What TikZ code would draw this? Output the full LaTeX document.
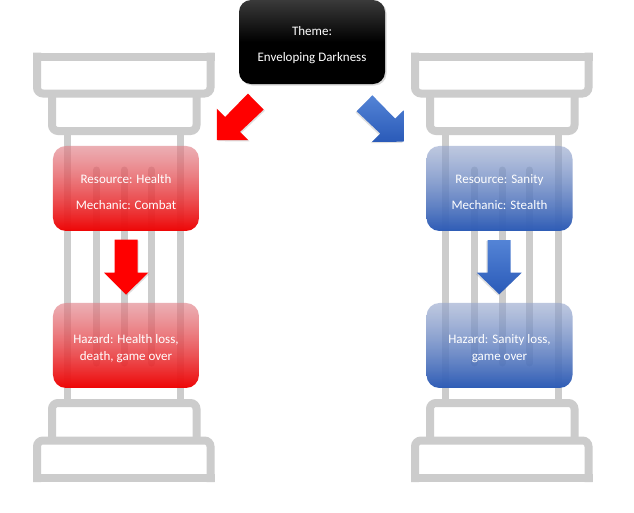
\documentclass[tikz,border=0pt]{standalone}
\usepackage{fontspec}
\setmainfont{Carlito}
\usetikzlibrary{fadings,shadows}
\definecolor{pillarc}{RGB}{204,204,204}
\definecolor{redtop}{RGB}{224,126,134}
\definecolor{redbot}{RGB}{238,6,6}
\definecolor{bluetop}{RGB}{150,166,204}
\definecolor{bluebot}{RGB}{46,92,182}
\definecolor{arrblueA}{RGB}{84,132,214}
\definecolor{arrblueB}{RGB}{42,90,184}
\definecolor{themetop}{RGB}{58,58,58}
\newcommand{\tstrut}{\rule{0pt}{15.5pt}}
\tikzfading[name=boxfade, top color=transparent!38, bottom color=transparent!0]
\tikzset{
  pillarline/.style={draw=pillarc, line width=8pt, line cap=butt, line join=miter},
  shaftline/.style={draw=pillarc, line width=7pt, line cap=butt},
  flute/.style={draw=pillarc, line width=7pt, line cap=round},
  txt/.style={text=white, font=\fontsize{13}{17}\selectfont, align=center},
  redbox/.style={txt, rounded corners=13pt, minimum width=146pt, minimum height=85pt,
    top color=redtop, bottom color=redbot, path fading=boxfade},
  bluebox/.style={txt, rounded corners=13pt, minimum width=146pt, minimum height=85pt,
    top color=bluetop, bottom color=bluebot, path fading=boxfade},
  themebox/.style={txt, rounded corners=12pt, minimum width=146pt, minimum height=84pt,
    top color=themetop, bottom color=black, middle color=black,
    drop shadow={opacity=0.3, shadow xshift=1.5pt, shadow yshift=-1.5pt}},
  redarrow/.style={fill=red, drop shadow={opacity=0.25, shadow xshift=1.2pt, shadow yshift=-1.2pt}},
  bluearrow/.style={top color=arrblueA, bottom color=arrblueB, draw=none,
    drop shadow={opacity=0.25, shadow xshift=-1.2pt, shadow yshift=-1.2pt}},
}
\newcommand{\mypillar}[1]{%
  \begin{scope}[xshift=#1]
    % capital
    \draw[pillarline] (33,56.5) -- (214.5,56.5);
    \draw[pillarline, rounded corners=6pt] (37,52.5) -- (37,93.5) -- (210.5,93.5) -- (210.5,52.5);
    \draw[pillarline, rounded corners=6pt] (52,93.5) -- (52,131) -- (196.5,131) -- (196.5,93.5);
    % shaft
    \draw[shaftline] (67.5,131) -- (67.5,403);
    \draw[shaftline] (180.5,131) -- (180.5,403);
    \draw[flute] (96.5,170) -- (96.5,363);
    \draw[flute] (124,170) -- (124,363);
    \draw[flute] (151.5,170) -- (151.5,363);
    % base
    \draw[pillarline, rounded corners=6pt] (52,441) -- (52,403) -- (196.5,403) -- (196.5,441);
    \draw[pillarline, rounded corners=6pt] (37,482) -- (37,440.5) -- (210.5,440.5) -- (210.5,482);
    \draw[pillarline] (33,478) -- (214.5,478);
  \end{scope}}
\begin{document}
\begin{tikzpicture}[x=1pt,y=-1pt]
\useasboundingbox (0,0) rectangle (634,512);
\fill[white] (0,0) rectangle (634,512);
\mypillar{0pt}
\mypillar{378pt}
% arrows
\path[redarrow] (247.9,93.6) -- (225.1,117.0) -- (216.8,108.7) -- (216.8,140) -- (248.3,140.2) -- (240,131.9) -- (263.6,109.6) -- cycle;
\path[bluearrow] (372.4,95.3) -- (395.2,118.7) -- (403.5,110.4) -- (403.5,141.7) -- (372,141.9) -- (380.3,133.6) -- (356.7,111.3) -- cycle;
\path[redarrow] (114.5,239.5) -- (137.5,239.5) -- (137.5,272.7) -- (148.3,272.7) -- (126,294.5) -- (104,272.7) -- (114.5,272.7) -- cycle;
\path[bluearrow] (487.5,240) -- (510.5,240) -- (510.5,272.7) -- (521.7,272.7) -- (499.3,294.3) -- (476.9,272.7) -- (487.5,272.7) -- cycle;
% boxes
\node[themebox] (theme) at (312,42) {\tstrut Theme:\\[9pt]Enveloping Darkness};
\node[redbox] (res1) at (126,188.5) {\tstrut Resource: Health\\[9pt]Mechanic: Combat};
\node[redbox] (haz1) at (126,345.5) {\tstrut Hazard: Health loss,\\death, game over};
\node[bluebox] (res2) at (499.5,188.5) {\tstrut Resource: Sanity\\[9pt]Mechanic: Stealth};
\node[bluebox] (haz2) at (499.5,345.5) {\tstrut Hazard: Sanity loss,\\game over};
\end{tikzpicture}
\end{document}
